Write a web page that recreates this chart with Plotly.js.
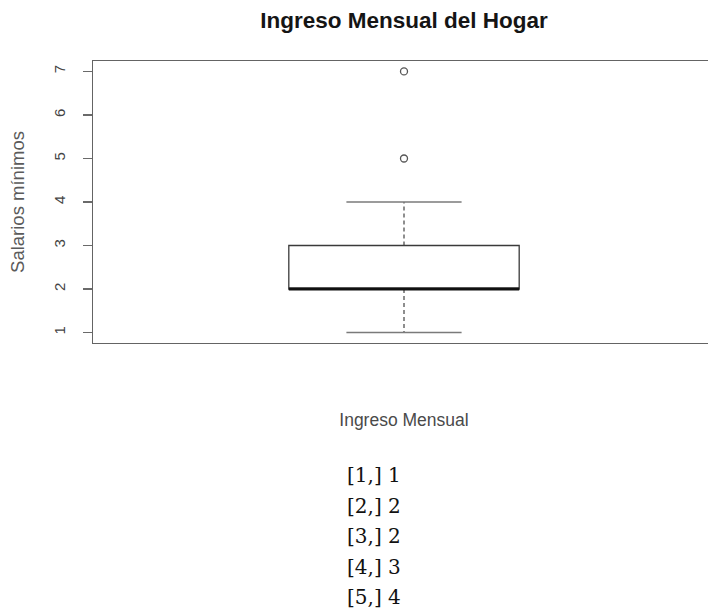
<!DOCTYPE html>
<html>
<head>
<meta charset="utf-8">
<script src="https://cdn.plot.ly/plotly-3.0.1.min.js"></script>
<style>
  html, body { margin: 0; padding: 0; background: #fff; overflow: hidden; }
  #chart { width: 722px; height: 616px; }
</style>
</head>
<body>
<div id="chart"></div>
<script>
// boxplot stats: lower whisker, Q1, median, Q3, upper whisker
const statLabels = ['[1,]', '[2,]', '[3,]', '[4,]', '[5,]'];
const statValues = [1, 2, 2, 3, 4];
const outliers = [5, 7];
const yTicks = [1, 2, 3, 4, 5, 6, 7];
const boxPos = 1;

const [lowW, q1, med, q3, upW] = statValues;
const boxWidth = 0.4;
const capHalf = 0.1;
const frameColor = '#646464';

const traces = [
  {
    type: 'box', x: [boxPos], q1: [q1], median: [med], q3: [q3],
    lowerfence: [q1], upperfence: [q3], width: boxWidth, whiskerwidth: 0,
    boxpoints: false, fillcolor: 'rgba(255,255,255,0)',
    line: { color: '#3a3a3a', width: 1.3 }, hoverinfo: 'skip', showlegend: false
  },
  // dashed whiskers
  {
    type: 'scatter', mode: 'lines', x: [boxPos, boxPos, null, boxPos, boxPos],
    y: [q3, upW, null, q1, lowW], connectgaps: false,
    line: { color: '#444', width: 1.2, dash: '4px,3px' }, hoverinfo: 'skip', showlegend: false
  },
  // staples
  {
    type: 'scatter', mode: 'lines',
    x: [boxPos - capHalf, boxPos + capHalf, null, boxPos - capHalf, boxPos + capHalf],
    y: [upW, upW, null, lowW, lowW],
    line: { color: '#7a7a7a', width: 1.6 }, hoverinfo: 'skip', showlegend: false
  },
  // median
  {
    type: 'scatter', mode: 'lines',
    x: [boxPos - boxWidth / 2, boxPos + boxWidth / 2], y: [med, med],
    line: { color: '#111', width: 3 }, hoverinfo: 'skip', showlegend: false
  },
  // outliers
  {
    type: 'scatter', mode: 'markers', x: outliers.map(() => boxPos), y: outliers,
    marker: { symbol: 'circle-open', size: 7, color: '#555', line: { width: 1.3, color: '#555' } },
    hoverinfo: 'skip', showlegend: false
  }
];

const annotations = statLabels.map((lab, i) => ({
  text: lab + ' ' + statValues[i],
  xref: 'paper', yref: 'paper', x: 0.405, xanchor: 'left',
  y: -0.468 - i * 0.1085, yanchor: 'middle',
  showarrow: false,
  font: { family: 'DejaVu Serif, serif', size: 20, color: '#111' }
}));

const layout = {
  width: 722, height: 616,
  margin: { l: 93, r: 7, t: 61, b: 273 },
  paper_bgcolor: '#fff', plot_bgcolor: '#fff',
  font: { family: 'Liberation Sans, Arial, sans-serif' },
  title: {
    text: '<b>Ingreso Mensual del Hogar</b>',
    x: 0.5, xref: 'paper', y: 1 - 20 / 616, yanchor: 'middle',
    font: { size: 22.5, color: '#151515' }
  },
  xaxis: {
    range: [0.46, 1.54], showticklabels: false, ticks: '', showgrid: false, zeroline: false,
    showline: true, mirror: true, linecolor: frameColor, linewidth: 1.3,
    title: { text: 'Ingreso Mensual', standoff: 70, font: { size: 17.5, color: '#4a4a4a' } }
  },
  yaxis: {
    range: [0.76, 7.24], tickvals: yTicks, ticktext: yTicks.map(String),
    ticks: 'outside', ticklen: 9, tickcolor: '#6a6a6a', tickwidth: 1.3, tickangle: -90,
    ticklabelstandoff: 12,
    tickfont: { size: 15, color: '#444' },
    showgrid: false, zeroline: false,
    showline: true, mirror: true, linecolor: frameColor, linewidth: 1.3,
    title: { text: 'Salarios mínimos', standoff: 21, font: { size: 18.5, color: '#5a5a5a' } }
  },
  annotations: annotations
};

Plotly.newPlot('chart', traces, layout, { staticPlot: true, displayModeBar: false });
</script>
</body>
</html>
